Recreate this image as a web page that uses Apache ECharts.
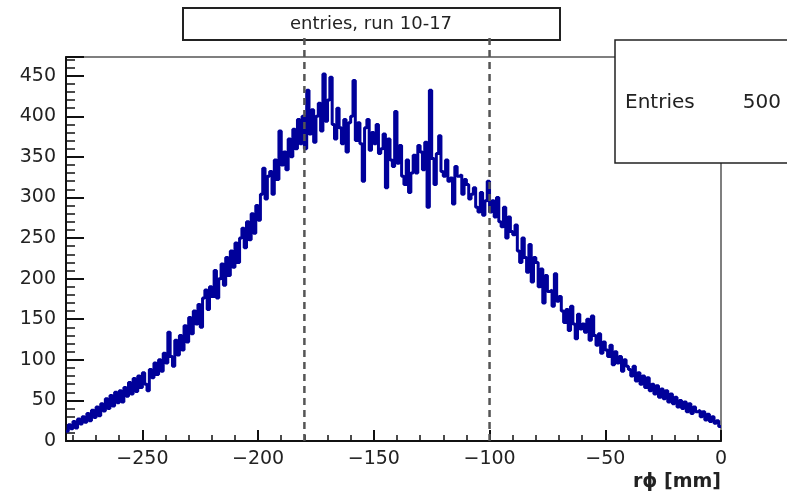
<!DOCTYPE html>
<html>
<head>
<meta charset="utf-8">
<script src="https://cdn.jsdelivr.net/npm/echarts@6/dist/echarts.min.js"></script>
<style>
    html, body { margin: 0; padding: 0; background: #fff; }
    #main { width: 787px; height: 495px; }
</style>
</head>
<body>
<div id="main"></div>
<script>
// histogram: 1 mm bins from -283 to 0
var binStart = -283;
var binWidth = 1;
var counts = [
    12, 20, 15,
    24, 16, 27, 21, 30, 23, 34, 25, 38, 29,
    42, 31, 46, 37, 52, 40, 56, 43, 60, 47,
    62, 48, 66, 55, 72, 58, 77, 61, 80, 66,
    84, 70, 62, 88, 78, 96, 82, 100, 86, 108,
    96, 134, 104, 92, 124, 106, 130, 112, 142, 122,
    152, 132, 160, 144, 168, 140, 176, 186, 162, 190,
    178, 210, 176, 200, 218, 192, 226, 204, 234, 214,
    244, 220, 250, 262, 238, 270, 248, 280, 256, 290,
    272, 304, 336, 298, 326, 332, 304, 346, 322, 382,
    340, 356, 334, 372, 350, 384, 360, 396, 366, 400,
    360, 432, 378, 408, 368, 400, 416, 382, 452, 394,
    420, 448, 390, 372, 410, 386, 366, 396, 356, 392,
    400, 444, 370, 392, 366, 320, 386, 396, 358, 380,
    366, 390, 354, 360, 378, 312, 372, 346, 338, 406,
    342, 364, 326, 316, 346, 306, 330, 352, 330, 364,
    356, 334, 368, 288, 432, 348, 316, 354, 376, 332,
    326, 346, 320, 324, 292, 338, 326, 328, 304, 322,
    316, 298, 304, 312, 288, 282, 306, 278, 296, 320,
    282, 296, 276, 300, 270, 264, 288, 250, 276, 258,
    254, 266, 234, 220, 250, 226, 208, 242, 196, 226,
    220, 190, 212, 170, 204, 184, 186, 166, 206, 172,
    178, 160, 146, 162, 136, 166, 144, 126, 156, 138,
    144, 134, 150, 124, 154, 130, 118, 132, 108, 122,
    112, 104, 118, 94, 110, 96, 104, 86, 100, 92,
    88, 80, 92, 74, 84, 70, 80, 66, 78, 62,
    70, 58, 68, 54, 64, 52, 62, 48, 58, 46,
    54, 42, 50, 40, 48, 36, 46, 34, 42, 36,
    38, 30, 36, 26, 33, 24, 30, 22, 25, 18
];
// dashed cut lines (mm)
var cutLines = [-180, -100];
var titleText = 'entries, run 10-17';
var statsLabel = 'Entries';
var statsValue = '500';
var xTitle = 'r\u03d5 [mm]';

var xMin = -283, xMax = 0;
var yMin = 0, yMax = 473;
var cutTop = 502;

var myChart = echarts.init(document.querySelector('#main'));

// step points from bin low edges, plus the closing edge
var histData = [];
for (var i = 0; i < counts.length; i++) {
    histData.push([binStart + i * binWidth, counts[i]]);
}
histData.push([binStart + counts.length * binWidth, counts[counts.length - 1]]);

var series = [{
    type: 'line',
    step: 'end',
    data: histData,
    showSymbol: false,
    symbol: 'none',
    animation: false,
    lineStyle: { color: '#00009a', width: 3 },
    z: 3
}];
cutLines.forEach(function (c) {
    series.push({
        type: 'line',
        data: [[c, yMin], [c, cutTop]],
        symbol: 'none',
        clip: false,
        animation: false,
        silent: true,
        lineStyle: { color: '#555', width: 2.5, type: [7, 5] },
        z: 200
    });
});

var labelFont = 'DejaVu Sans';
var option = {
    backgroundColor: '#fff',
    animation: false,
    grid: {
        left: 66, right: 66, top: 57, bottom: 54,
        show: true,
        borderColor: '#555',
        borderWidth: 1.5,
        backgroundColor: 'transparent'
    },
    xAxis: {
        type: 'value',
        min: xMin,
        max: xMax,
        splitNumber: 5,
        axisLine: { show: true, onZero: false, lineStyle: { color: '#111', width: 2 } },
        axisTick: { show: true, inside: true, length: 11, lineStyle: { color: '#111', width: 2 } },
        minorTick: { show: true, splitNumber: 5, length: 6, lineStyle: { color: '#111', width: 1.5 } },
        splitLine: { show: false },
        axisLabel: {
            showMinLabel: false,
            margin: 9,
            color: '#222',
            fontFamily: labelFont,
            fontSize: 19,
            formatter: function (v) { return v < 0 ? '\u2212' + (-v) : '' + v; }
        }
    },
    yAxis: {
        type: 'value',
        min: yMin,
        max: yMax,
        splitNumber: 10,
        axisLine: { show: true, onZero: false, lineStyle: { color: '#111', width: 2 } },
        axisTick: { show: true, inside: true, length: 18, lineStyle: { color: '#111', width: 2 } },
        minorTick: { show: true, splitNumber: 5, length: 9, lineStyle: { color: '#111', width: 1.5 } },
        splitLine: { show: false },
        axisLabel: {
            showMaxLabel: false,
            margin: 10,
            color: '#222',
            fontFamily: labelFont,
            fontSize: 19
        }
    },
    graphic: [
        {
            type: 'rect',
            z: 100,
            shape: { x: 183, y: 8, width: 377, height: 32 },
            style: { fill: '#fff', stroke: '#222', lineWidth: 2 }
        },
        {
            type: 'text',
            z: 101,
            x: 371, y: 24,
            style: {
                text: titleText, fill: '#222', font: '18px "DejaVu Sans"',
                align: 'center', verticalAlign: 'middle'
            }
        },
        {
            type: 'rect',
            z: 100,
            shape: { x: 615, y: 40, width: 200, height: 123 },
            style: { fill: '#fff', stroke: '#222', lineWidth: 1.5 }
        },
        {
            type: 'text',
            z: 101,
            x: 625, y: 103,
            style: {
                text: statsLabel, fill: '#222', font: '20px "DejaVu Sans"',
                align: 'left', verticalAlign: 'middle'
            }
        },
        {
            type: 'text',
            z: 101,
            x: 781, y: 103,
            style: {
                text: statsValue, fill: '#222', font: '20px "DejaVu Sans"',
                align: 'right', verticalAlign: 'middle'
            }
        },
        {
            type: 'text',
            z: 101,
            x: 721, y: 482,
            style: {
                text: xTitle, fill: '#222', font: 'bold 19px "DejaVu Sans"',
                align: 'right', verticalAlign: 'middle'
            }
        }
    ],
    series: series
};
myChart.setOption(option);
</script>
</body>
</html>
